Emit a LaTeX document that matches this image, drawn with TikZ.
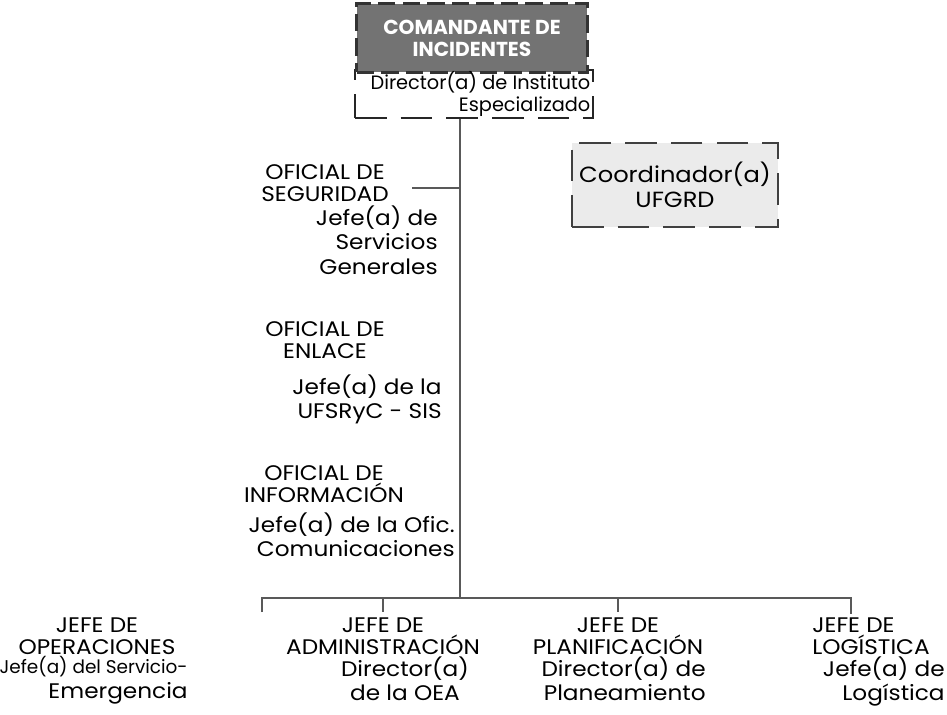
\documentclass[tikz,border=0pt]{standalone}
\usepackage{fontspec}
\setmainfont{Poppins}[FakeStretch=1.1]
\newfontfamily\mandofont{Poppins}
\usetikzlibrary{positioning}

\begin{document}
\begin{tikzpicture}[x=0.02cm,y=-0.02cm,
    linea/.style={draw=black!65,line width=0.6pt},
    titulo/.style={align=center,inner sep=0pt,anchor=north,font=\fontsize{12}{12.8}\selectfont},
    cargo/.style={align=right,inner sep=0pt,anchor=north east,font=\fontsize{12}{14}\selectfont},
    mando/.style={draw=black!80,line width=1.6pt,dash pattern=on 10pt off 4pt,
      fill=black!55,text=white,align=center,minimum width=4.62cm,minimum height=1.38cm,
      font=\mandofont\bfseries\fontsize{11.5}{12.5}\selectfont},
    cajadir/.style={draw=black!85,line width=1.4pt,dash pattern=on 18pt off 8pt,fill=white,
      minimum width=4.76cm,minimum height=0.96cm},
    cajacoord/.style={draw=black!75,line width=1.6pt,dash pattern=on 18pt off 8pt,fill=black!8,
      align=center,minimum width=4.12cm,minimum height=1.68cm,font=\fontsize{12.5}{14}\selectfont}]
    \useasboundingbox (0,0) rectangle (947,714);
    % mando
    \node[cajadir] (dir) at (474,94) {};
    \node[mando] (cmd) at (472,38) {COMANDANTE DE\\INCIDENTES};
    \node[cargo,anchor=east,font=\mandofont\fontsize{11}{12.5}\selectfont] (dirc) at ([xshift=-2pt]dir.east) {Director(a) de Instituto\\Especializado};
    \node[cajacoord] (coord) at (675,185) {Coordinador(a)\\UFGRD};
    % staff
    \node[titulo] (seg) at (325,164) {OFICIAL DE\\SEGURIDAD};
    \node[cargo] (segc) at (438,205) {Jefe(a) de\\Servicios\\Generales};
    \node[titulo] (enl) at (325,321) {OFICIAL DE\\ENLACE};
    \node[cargo] (enlc) at (442,374) {Jefe(a) de la\\UFSRyC - SIS};
    \node[titulo] (inf) at (324,465) {OFICIAL DE\\INFORMACIÓN};
    \node[cargo] (infc) at (455,512) {Jefe(a) de la Ofic.\\Comunicaciones};
    % secciones
    \node[titulo] (ops) at (97,617) {JEFE DE\\OPERACIONES};
    \node[cargo] (opsc) at (188,656) {{\mandofont\fontsize{10.5}{14}\selectfont Jefe(a) del Servicio-}\\Emergencia};
    \node[titulo] (adm) at (383,617) {JEFE DE\\ADMINISTRACIÓN};
    \node[titulo,font=\fontsize{12}{14}\selectfont] (admc) at (405,656) {Director(a)\\de la OEA};
    \node[titulo] (plan) at (618,617) {JEFE DE\\PLANIFICACIÓN};
    \node[cargo] (planc) at (706,656) {Director(a) de\\Planeamiento};
    \node[titulo,align=left,anchor=north west] (log) at (812,617) {JEFE DE\\LOGÍSTICA};
    \node[cargo] (logc) at (945,656) {Jefe(a) de\\Logística};
    % lineas
    \coordinate (bar) at (460,598);
    \coordinate (stub) at (412,188);
    \coordinate (d1) at (262,612);
    \coordinate (d2) at (383,612);
    \coordinate (d3) at (618,612);
    \coordinate (d4) at (851,614);
    \draw[linea] (dir.south -| bar) -- (bar);
    \draw[linea] (stub) -- (stub -| bar);
    \draw[linea] (d1) -- (d1 |- bar) -- (d4 |- bar) -- (d4);
    \draw[linea] (d2 |- bar) -- (d2);
    \draw[linea] (d3 |- bar) -- (d3);
\end{tikzpicture}
\end{document}
